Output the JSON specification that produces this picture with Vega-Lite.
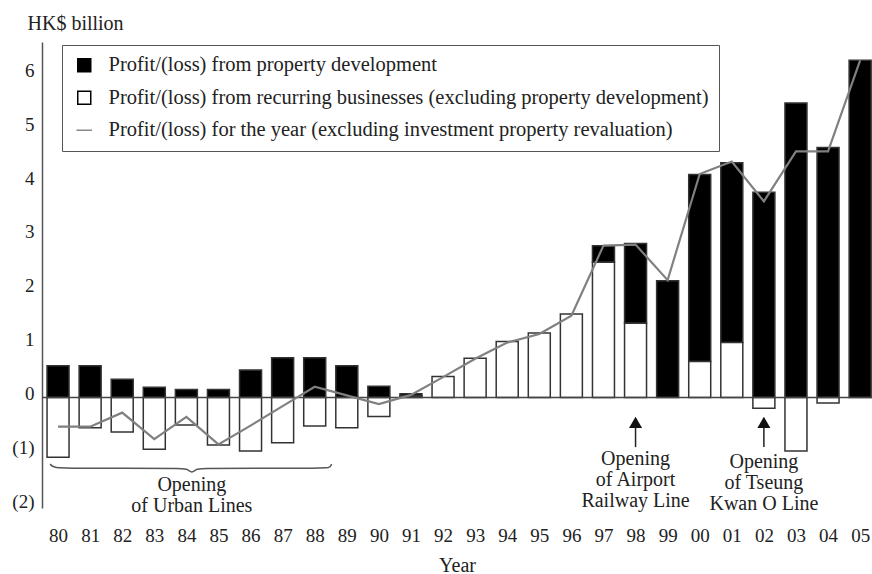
{
  "$schema": "https://vega.github.io/schema/vega-lite/v6.json",
  "width": 830,
  "height": 466,
  "autosize": {"type": "none"},
  "padding": {"left": 42, "top": 42, "right": 0, "bottom": 66},
  "background": "white",
  "config": {
    "view": {"stroke": null},
    "font": "Liberation Serif",
    "legend": {
      "orient": "none", "legendX": 20, "legendY": 3, "direction": "vertical",
      "strokeColor": "#555", "fillColor": "white", "padding": 10, "rowPadding": 11.5,
      "labelFont": "Liberation Serif", "labelFontSize": 20.5, "labelColor": "#222",
      "labelLimit": 1000, "symbolOffset": 2, "labelOffset": 14, "symbolSize": 169,
      "symbolStrokeWidth": 1.5, "symbolOpacity": 1
    }
  },
  "datasets": {
    "bars": [
      {"year": 1980, "series": "Profit/(loss) from property development", "value": 0.59},
      {"year": 1980, "series": "Profit/(loss) from recurring businesses (excluding property development)", "value": -1.11},
      {"year": 1981, "series": "Profit/(loss) from property development", "value": 0.59},
      {"year": 1981, "series": "Profit/(loss) from recurring businesses (excluding property development)", "value": -0.56},
      {"year": 1982, "series": "Profit/(loss) from property development", "value": 0.34},
      {"year": 1982, "series": "Profit/(loss) from recurring businesses (excluding property development)", "value": -0.64},
      {"year": 1983, "series": "Profit/(loss) from property development", "value": 0.19},
      {"year": 1983, "series": "Profit/(loss) from recurring businesses (excluding property development)", "value": -0.96},
      {"year": 1984, "series": "Profit/(loss) from property development", "value": 0.15},
      {"year": 1984, "series": "Profit/(loss) from recurring businesses (excluding property development)", "value": -0.51},
      {"year": 1985, "series": "Profit/(loss) from property development", "value": 0.15},
      {"year": 1985, "series": "Profit/(loss) from recurring businesses (excluding property development)", "value": -0.88},
      {"year": 1986, "series": "Profit/(loss) from property development", "value": 0.51},
      {"year": 1986, "series": "Profit/(loss) from recurring businesses (excluding property development)", "value": -0.99},
      {"year": 1987, "series": "Profit/(loss) from property development", "value": 0.74},
      {"year": 1987, "series": "Profit/(loss) from recurring businesses (excluding property development)", "value": -0.84},
      {"year": 1988, "series": "Profit/(loss) from property development", "value": 0.74},
      {"year": 1988, "series": "Profit/(loss) from recurring businesses (excluding property development)", "value": -0.53},
      {"year": 1989, "series": "Profit/(loss) from property development", "value": 0.59},
      {"year": 1989, "series": "Profit/(loss) from recurring businesses (excluding property development)", "value": -0.56},
      {"year": 1990, "series": "Profit/(loss) from property development", "value": 0.21},
      {"year": 1990, "series": "Profit/(loss) from recurring businesses (excluding property development)", "value": -0.35},
      {"year": 1991, "series": "Profit/(loss) from property development", "value": 0.04},
      {"year": 1991, "series": "Profit/(loss) from recurring businesses (excluding property development)", "value": 0.03},
      {"year": 1992, "series": "Profit/(loss) from recurring businesses (excluding property development)", "value": 0.39},
      {"year": 1993, "series": "Profit/(loss) from recurring businesses (excluding property development)", "value": 0.73},
      {"year": 1994, "series": "Profit/(loss) from recurring businesses (excluding property development)", "value": 1.04},
      {"year": 1995, "series": "Profit/(loss) from recurring businesses (excluding property development)", "value": 1.2},
      {"year": 1996, "series": "Profit/(loss) from recurring businesses (excluding property development)", "value": 1.55},
      {"year": 1997, "series": "Profit/(loss) from property development", "value": 0.31},
      {"year": 1997, "series": "Profit/(loss) from recurring businesses (excluding property development)", "value": 2.51},
      {"year": 1998, "series": "Profit/(loss) from property development", "value": 1.48},
      {"year": 1998, "series": "Profit/(loss) from recurring businesses (excluding property development)", "value": 1.38},
      {"year": 1999, "series": "Profit/(loss) from property development", "value": 2.17},
      {"year": 2000, "series": "Profit/(loss) from property development", "value": 3.47},
      {"year": 2000, "series": "Profit/(loss) from recurring businesses (excluding property development)", "value": 0.67},
      {"year": 2001, "series": "Profit/(loss) from property development", "value": 3.34},
      {"year": 2001, "series": "Profit/(loss) from recurring businesses (excluding property development)", "value": 1.02},
      {"year": 2002, "series": "Profit/(loss) from property development", "value": 3.81},
      {"year": 2002, "series": "Profit/(loss) from recurring businesses (excluding property development)", "value": -0.2},
      {"year": 2003, "series": "Profit/(loss) from property development", "value": 5.47},
      {"year": 2003, "series": "Profit/(loss) from recurring businesses (excluding property development)", "value": -0.99},
      {"year": 2004, "series": "Profit/(loss) from property development", "value": 4.64},
      {"year": 2004, "series": "Profit/(loss) from recurring businesses (excluding property development)", "value": -0.1},
      {"year": 2005, "series": "Profit/(loss) from property development", "value": 6.26}
    ],
    "line": [
      {"year": 1980, "value": -0.54},
      {"year": 1981, "value": -0.54},
      {"year": 1982, "value": -0.28},
      {"year": 1983, "value": -0.77},
      {"year": 1984, "value": -0.36},
      {"year": 1985, "value": -0.87},
      {"year": 1986, "value": -0.52},
      {"year": 1987, "value": -0.16},
      {"year": 1988, "value": 0.2},
      {"year": 1989, "value": 0.04},
      {"year": 1990, "value": -0.12},
      {"year": 1991, "value": 0.05},
      {"year": 1992, "value": 0.38},
      {"year": 1993, "value": 0.72},
      {"year": 1994, "value": 1.02},
      {"year": 1995, "value": 1.18},
      {"year": 1996, "value": 1.52},
      {"year": 1997, "value": 2.82},
      {"year": 1998, "value": 2.84},
      {"year": 1999, "value": 2.18},
      {"year": 2000, "value": 4.15},
      {"year": 2001, "value": 4.38},
      {"year": 2002, "value": 3.64},
      {"year": 2003, "value": 4.57},
      {"year": 2004, "value": 4.57},
      {"year": 2005, "value": 6.26}
    ],
    "legendrows": [
      {"series": "Profit/(loss) from property development", "year": 1980, "value": 0},
      {"series": "Profit/(loss) from recurring businesses (excluding property development)", "year": 1980, "value": 0},
      {"series": "Profit/(loss) for the year (excluding investment property revaluation)", "year": 1980, "value": 0}
    ],
    "brace": [
      {"year": 1979.75, "value": -1.235},
      {"year": 1979.85, "value": -1.28},
      {"year": 1980.05, "value": -1.305},
      {"year": 1980.5, "value": -1.31},
      {"year": 1983.7, "value": -1.315},
      {"year": 1984.0, "value": -1.33},
      {"year": 1984.17, "value": -1.38},
      {"year": 1984.34, "value": -1.33},
      {"year": 1984.64, "value": -1.315},
      {"year": 1987.9, "value": -1.31},
      {"year": 1988.35, "value": -1.305},
      {"year": 1988.48, "value": -1.28},
      {"year": 1988.53, "value": -1.235}
    ],
    "arrows": [
      {"year": 1998, "value": -0.92, "value2": -0.5},
      {"year": 2002, "value": -0.92, "value2": -0.5}
    ],
    "heads": [
      {"year": 1998, "value": -0.46},
      {"year": 2002, "value": -0.46}
    ],
    "notes": [
      {"year": 1984.17, "value": -1.44, "label": "Opening\nof Urban Lines"},
      {"year": 1998, "value": -0.956, "label": "Opening\nof Airport\nRailway Line"},
      {"year": 2002, "value": -1.01, "label": "Opening\nof Tseung\nKwan O Line"}
    ],
    "zero": [{"value": 0}]
  },
  "layer": [
    {
      "data": {"name": "bars"},
      "mark": {"type": "bar", "width": 22, "stroke": "#333", "strokeWidth": 1.5},
      "encoding": {
        "x": {
          "field": "year", "type": "quantitative",
          "scale": {"domain": [1979.5, 2005.37], "nice": false, "zero": false, "padding": 0},
          "axis": {
            "values": [1980, 1981, 1982, 1983, 1984, 1985, 1986, 1987, 1988, 1989, 1990, 1991, 1992, 1993, 1994, 1995, 1996, 1997, 1998, 1999, 2000, 2001, 2002, 2003, 2004, 2005],
            "tickCount": 40,
            "labelExpr": "substring(toString(datum.value), 2)",
            "domain": false, "ticks": false, "grid": false,
            "labelFont": "Liberation Serif", "labelFontSize": 19, "labelColor": "#222",
            "labelPadding": 18, "labelFlush": false, "labelOverlap": false,
            "title": "Year", "titleFont": "Liberation Serif", "titleFontSize": 20,
            "titleFontWeight": "normal", "titleColor": "#222", "titlePadding": 10
          }
        },
        "y": {
          "field": "value", "type": "quantitative", "stack": "zero",
          "scale": {"domain": [-2.05, 6.6], "nice": false, "zero": false, "padding": 0},
          "axis": {
            "values": [-2, -1, 0, 1, 2, 3, 4, 5, 6],
            "tickCount": 20,
            "labelExpr": "datum.value < 0 ? '(' + (-datum.value) + ')' : '' + datum.value",
            "domain": true, "domainColor": "#555", "domainWidth": 1.5,
            "ticks": false, "grid": false,
            "labelFont": "Liberation Serif", "labelFontSize": 19, "labelColor": "#222",
            "labelPadding": 8, "labelOffset": -4,
            "title": "HK$ billion", "titleAngle": 0, "titleAlign": "left",
            "titleBaseline": "alphabetic", "titleX": -15, "titleY": -13,
            "titleFont": "Liberation Serif", "titleFontSize": 20,
            "titleFontWeight": "normal", "titleColor": "#222"
          }
        },
        "color": {
          "field": "series", "type": "nominal",
          "scale": {
            "domain": [
              "Profit/(loss) from property development",
              "Profit/(loss) from recurring businesses (excluding property development)"
            ],
            "range": ["#000000", "#ffffff"]
          },
          "legend": null
        },
        "order": {"field": "series", "sort": "descending"}
      }
    },
    {
      "data": {"name": "legendrows"},
      "mark": {"type": "point", "opacity": 0, "filled": true, "size": 1},
      "encoding": {
        "x": {"field": "year", "type": "quantitative"},
        "y": {"field": "value", "type": "quantitative"},
        "fill": {
          "field": "series", "type": "nominal",
          "scale": {
            "domain": [
              "Profit/(loss) from property development",
              "Profit/(loss) from recurring businesses (excluding property development)",
              "Profit/(loss) for the year (excluding investment property revaluation)"
            ],
            "range": ["#000000", "#ffffff", "#ffffff"]
          },
          "legend": {"title": null}
        },
        "stroke": {
          "field": "series", "type": "nominal",
          "scale": {
            "domain": [
              "Profit/(loss) from property development",
              "Profit/(loss) from recurring businesses (excluding property development)",
              "Profit/(loss) for the year (excluding investment property revaluation)"
            ],
            "range": ["#000000", "#000000", "#888888"]
          },
          "legend": {"title": null}
        },
        "shape": {
          "field": "series", "type": "nominal",
          "scale": {
            "domain": [
              "Profit/(loss) from property development",
              "Profit/(loss) from recurring businesses (excluding property development)",
              "Profit/(loss) for the year (excluding investment property revaluation)"
            ],
            "range": ["square", "square", "M-1.2,0L1.2,0"]
          },
          "legend": {"title": null}
        }
      }
    },
    {
      "data": {"name": "zero"},
      "mark": {"type": "rule", "color": "#444", "strokeWidth": 1.5},
      "encoding": {"y": {"field": "value", "type": "quantitative"}}
    },
    {
      "data": {"name": "line"},
      "mark": {"type": "line", "strokeWidth": 2.2, "color": "#808080"},
      "encoding": {
        "x": {"field": "year", "type": "quantitative"},
        "y": {"field": "value", "type": "quantitative"}
      }
    },
    {
      "data": {"name": "brace"},
      "mark": {"type": "line", "color": "#555", "strokeWidth": 1.5, "interpolate": "monotone"},
      "encoding": {
        "x": {"field": "year", "type": "quantitative"},
        "y": {"field": "value", "type": "quantitative"}
      }
    },
    {
      "data": {"name": "arrows"},
      "mark": {"type": "rule", "color": "#222", "strokeWidth": 1.5},
      "encoding": {
        "x": {"field": "year", "type": "quantitative"},
        "y": {"field": "value", "type": "quantitative"},
        "y2": {"field": "value2"}
      }
    },
    {
      "data": {"name": "heads"},
      "mark": {"type": "point", "shape": "triangle-up", "filled": true, "color": "#111", "size": 170, "opacity": 1},
      "encoding": {
        "x": {"field": "year", "type": "quantitative"},
        "y": {"field": "value", "type": "quantitative"}
      }
    },
    {
      "data": {"name": "notes"},
      "mark": {"type": "text", "lineBreak": "\n", "baseline": "top", "align": "center", "font": "Liberation Serif", "fontSize": 20, "lineHeight": 21, "color": "#222"},
      "encoding": {
        "x": {"field": "year", "type": "quantitative"},
        "y": {"field": "value", "type": "quantitative"},
        "text": {"field": "label"}
      }
    }
  ]
}
